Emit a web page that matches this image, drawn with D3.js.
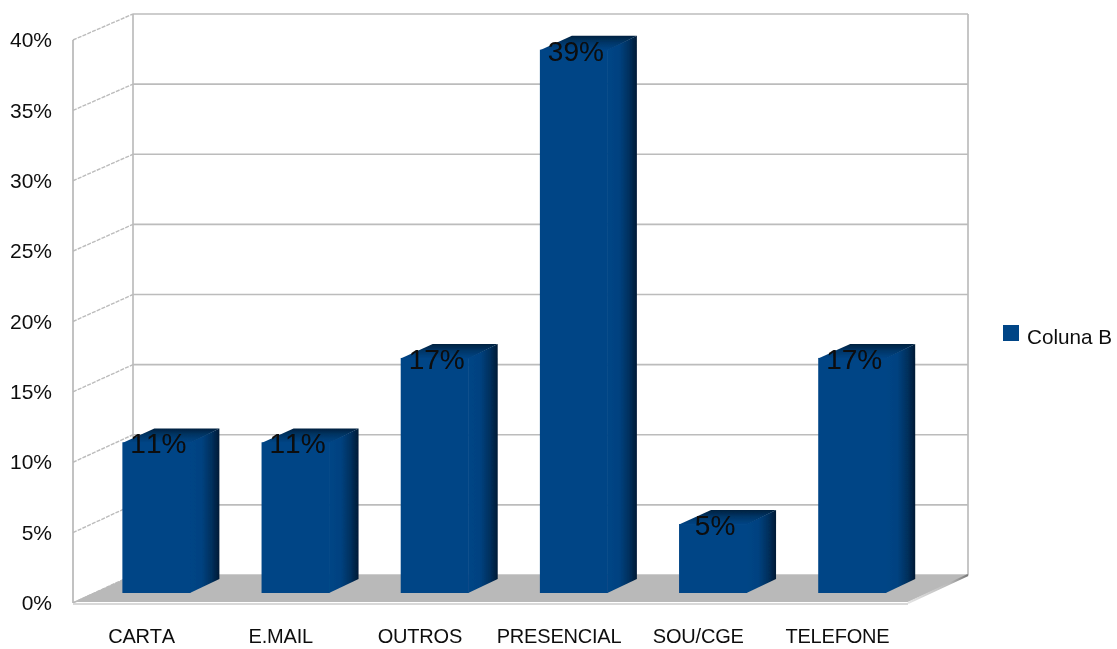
<!DOCTYPE html>
<html><head><meta charset="utf-8">
<script src="https://cdnjs.cloudflare.com/ajax/libs/d3/7.8.5/d3.min.js"></script>
<style>html,body{margin:0;padding:0;background:#fff}svg{display:block}text{font-family:"Liberation Sans",Arial,sans-serif;fill:#111;font-kerning:none}</style>
</head><body><svg id="c" width="1117" height="649"></svg>
<script>
const categories=["CARTA","E.MAIL","OUTROS","PRESENCIAL","SOU/CGE","TELEFONE"];
const values=[0.107,0.107,0.167,0.386,0.049,0.167];
const yTicks=[0,0.05,0.1,0.15,0.2,0.25,0.3,0.35,0.4];
const seriesName="Coluna B";

const svg=d3.select("#c");
const defs=svg.append("defs");
const f=defs.append("filter").attr("id","soft").attr("x","-2%").attr("y","-2%").attr("width","104%").attr("height","104%");
f.append("feGaussianBlur").attr("stdDeviation",0.55);
function grad(id,x2,y2,stops){const g=defs.append("linearGradient").attr("id",id).attr("x1",0).attr("y1",0).attr("x2",x2).attr("y2",y2);
 stops.forEach(s=>g.append("stop").attr("offset",s[0]).attr("stop-color",s[1]));}
grad("side",1,0,[[0,"#004586"],[0.4,"#004280"],[0.75,"#002f5c"],[1,"#001a35"]]);
grad("top",0,1,[[0,"#00213f"],[0.45,"#003566"],[1,"#004586"]]);
grad("edge",1,0,[[0,"#e4e4e4"],[0.7,"#b8b8b8"],[1,"#777"]]);

const root=svg.append("g").attr("filter","url(#soft)");
const x0=73,x1=908,dx=60,yF0=603,yF1=40,dyB=28,dyT=26;
const x=d3.scaleBand().domain(categories).range([x0,x1]);
const yFront=d3.scaleLinear().domain([0,0.4]).range([yF0,yF1]);
const yBack=d3.scaleLinear().domain([0,0.4]).range([yF0-dyB,yF1-dyT]);
const yBar=d3.scaleLinear().domain([0,0.4]).range([593,30]);
const barW=68,barDx=29,barDy=14,barOff=13.8;

// walls & gridlines
yTicks.forEach(t=>{
 root.append("line").attr("x1",x0+dx).attr("x2",x1+dx).attr("y1",yBack(t)).attr("y2",yBack(t)).attr("stroke","#bcbcbc").attr("stroke-width",1.7);
 root.append("line").attr("x1",x0).attr("x2",x0+dx).attr("y1",yFront(t)).attr("y2",yBack(t)).attr("stroke","#bcbcbc").attr("stroke-width",1.4).attr("stroke-dasharray","4 1.2");
});
root.append("line").attr("x1",x0).attr("x2",x0).attr("y1",yFront(0.4)).attr("y2",yFront(0)).attr("stroke","#b8b8b8").attr("stroke-width",1.7);
[x0+dx,x1+dx].forEach(px=>root.append("line").attr("x1",px).attr("x2",px).attr("y1",yBack(0.4)).attr("y2",yBack(0)).attr("stroke","#bcbcbc").attr("stroke-width",1.7));
// floor
root.append("polygon").attr("points",[[x0,yF0-1],[x0+dx,yBack(0)],[x1+dx,yBack(0)],[x1,yF0-1]].join(" ")).attr("fill","#b9b9b9");
root.append("line").attr("x1",x0).attr("x2",x1).attr("y1",yF0+1).attr("y2",yF0+1).attr("stroke","#d8d8d8").attr("stroke-width",2);
root.append("line").attr("x1",x1).attr("x2",x1+dx).attr("y1",yF0).attr("y2",yBack(0)).attr("stroke","url(#edge)").attr("stroke-width",2);

// bars
const bars=root.selectAll("g.bar").data(categories.map((c,i)=>({c,v:values[i]}))).join("g").attr("class","bar")
 .attr("transform",d=>`translate(${x(d.c)+x.bandwidth()/2-barW/2+barOff},0)`);
bars.append("polygon").attr("points",d=>[[barW-0.5,yBar(d.v)],[barW+barDx,yBar(d.v)-barDy],[barW+barDx,yBar(0)-barDy],[barW-0.5,yBar(0)]].join(" ")).attr("fill","url(#side)");
bars.append("polygon").attr("points",d=>[[0,yBar(d.v)+0.5],[barDx+3,yBar(d.v)-barDy],[barW+barDx,yBar(d.v)-barDy],[barW,yBar(d.v)+0.5]].join(" ")).attr("fill","url(#top)");
bars.append("rect").attr("x",0).attr("width",barW).attr("y",d=>yBar(d.v)).attr("height",d=>yBar(0)-yBar(d.v)).attr("fill","#004586");
bars.append("text").attr("x",barW/2+2).attr("y",d=>yBar(d.v)+11).attr("text-anchor","middle").style("font-size","28px").style("fill","#0a0a0a").text(d=>d3.format(".0%")(d.v));

// axes
const ya=root.append("g").attr("transform","translate(56,0)").call(d3.axisLeft(yFront).tickValues(yTicks).tickSize(0).tickPadding(4).tickFormat(d3.format(".0%")));
ya.select(".domain").remove();
ya.selectAll("text").style("font-size","21px").style("font-family",'"Liberation Sans",Arial,sans-serif').style("fill","#111");
const xa=root.append("g").attr("transform","translate(-1,629)").call(d3.axisBottom(x).tickSize(0).tickPadding(0));
xa.select(".domain").remove();
xa.selectAll("text").style("font-size","20px").style("letter-spacing","-0.2px").style("font-family",'"Liberation Sans",Arial,sans-serif').style("fill","#111");

// legend
const lg=root.append("g").attr("transform","translate(1003,325)");
lg.append("rect").attr("width",16).attr("height",16).attr("fill","#004586");
lg.append("text").attr("x",24).attr("y",18.5).style("font-size","20.7px").text(seriesName);
</script></body></html>
